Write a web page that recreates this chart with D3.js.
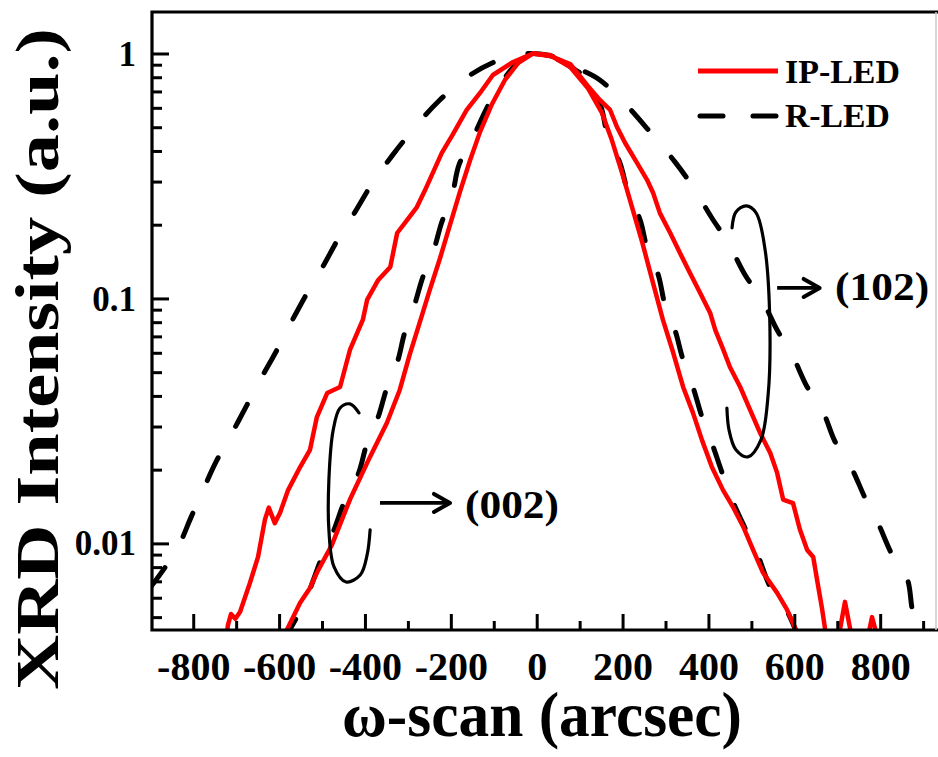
<!DOCTYPE html>
<html>
<head>
<meta charset="utf-8">
<script src="https://cdn.jsdelivr.net/npm/d3@7"></script>
<style>
  html, body { margin: 0; padding: 0; background: #fff; }
  svg { display: block; }
</style>
</head>
<body>
<svg id="chart" width="938" height="757"></svg>
<script>
// XRD omega rocking curves, normalised intensity on a log axis.

// IP-LED, (002) reflection
const ipLed002X = [-593, -582, -551, -528, -512, -477, -435, -388, -349, -319, -296, -272, -249, -225, -202, -179, -155, -132, -104, -74, -43, -9,
  31, 78, 119, 152, 175, 199, 222, 246, 269, 294, 318, 341, 364, 385, 408, 434, 457, 481, 504, 527, 560, 583, 602, 613];
const ipLed002Y = [0.00385, 0.00443, 0.00572, 0.00658, 0.00759, 0.00986, 0.0151, 0.0226, 0.031, 0.0423, 0.0588, 0.0802, 0.1084, 0.1463, 0.1995, 0.2716, 0.3673, 0.4786, 0.6223, 0.7798, 0.9146, 1.0,
  0.986, 0.881, 0.723, 0.572, 0.443, 0.325, 0.236, 0.169, 0.119, 0.0817, 0.06, 0.0435, 0.0341, 0.0264, 0.0205, 0.0165, 0.0141, 0.0117, 0.0094, 0.0076, 0.00628, 0.00536, 0.00452, 0.00403];

// IP-LED, (102) reflection
const ipLed102X = [-724, -719, -712, -702, -691, -668, -649, -633, -624, -610, -598, -579, -551, -528, -512, -488, -458, -435, -405, -395, -369, -341, -325, -302, -279, -260, -221, -196, -163, -132, -102, -55, -9,
  31, 78, 119, 147, 171, 187, 206, 234, 257, 271, 287, 311, 334, 357, 381, 404, 416, 432, 450, 474, 497, 520, 544, 560, 574, 597, 613, 630, 644, 653, 665, 672, 679, 702, 718, 735, 770, 781, 795];
const ipLed102Y = [0.00404, 0.00465, 0.00515, 0.00492, 0.00525, 0.00689, 0.00881, 0.0125, 0.014, 0.0121, 0.0133, 0.0165, 0.0205, 0.0241, 0.0328, 0.0411, 0.0435, 0.0616, 0.0817, 0.0986, 0.119, 0.1345, 0.185, 0.209, 0.236, 0.277, 0.393, 0.465, 0.588, 0.69, 0.817, 0.923, 1.0,
  0.977, 0.906, 0.737, 0.646, 0.588, 0.501, 0.431, 0.357, 0.305, 0.27, 0.223, 0.185, 0.153, 0.127, 0.105, 0.0873, 0.0743, 0.0634, 0.0525, 0.0435, 0.0351, 0.0283, 0.0234, 0.0194, 0.0151, 0.0146, 0.0114, 0.0094, 0.0088, 0.0071, 0.00536, 0.00443, 0.00367, 0.00404, 0.00577, 0.00404, 0.00404, 0.005, 0.00404];

// R-LED, (002) reflection
const rLed002X = [-590, -540, -500, -474, -446, -416, -395, -370, -349, -325, -307, -286, -265, -241, -221, -197, -181, -151, -116, -81, -40, 0,
  40, 80, 122, 150, 166, 194, 213, 241, 257, 283, 299, 322, 341, 364, 385, 408, 432, 455, 485, 513, 544, 585, 610];
const rLed002Y = [0.0040, 0.0058, 0.00881, 0.01114, 0.0151, 0.0191, 0.0257, 0.0325, 0.0431, 0.0546, 0.073, 0.0923, 0.1225, 0.155, 0.205, 0.264, 0.351, 0.443, 0.6, 0.765, 0.93, 1.0,
  0.96, 0.88, 0.772, 0.605, 0.456, 0.357, 0.27, 0.209, 0.161, 0.125, 0.094, 0.0743, 0.0561, 0.0435, 0.0328, 0.0257, 0.0194, 0.0151, 0.01156, 0.00914, 0.00664, 0.0052, 0.0041];

// R-LED, (102) reflection
const rLed102X = [-900, -873, -836, -805, -779, -747, -712, -675, -644, -605, -575, -535, -500, -460, -423, -381, -337, -281, -228, -158, -104, -50, -15,
  40, 89, 147, 213, 264, 322, 364, 408, 446, 485, 525, 560, 595, 630, 667, 695, 732, 765, 795, 828, 863, 875, 888, 900];
const rLed102Y = [0.0066, 0.00765, 0.0096, 0.0128, 0.0162, 0.0215, 0.0277, 0.0367, 0.0465, 0.0616, 0.078, 0.105, 0.133, 0.178, 0.2255, 0.299, 0.382, 0.506, 0.64, 0.81, 0.915, 0.985, 1.0,
  0.97, 0.881, 0.78, 0.605, 0.478, 0.361, 0.285, 0.213, 0.169, 0.125, 0.0986, 0.0743, 0.0588, 0.0435, 0.0344, 0.026, 0.0205, 0.0153, 0.0121, 0.00897, 0.00716, 0.00536, 0.00456, 0.0038];

// Axis ticks
const xTicks = [-800, -600, -400, -200, 0, 200, 400, 600, 800];
const xTickLabels = ["-800", "-600", "-400", "-200", "0", "200", "400", "600", "800"];
const xMinorTicks = [-900, -700, -500, -300, -100, 100, 300, 500, 700, 900];
const yTicks = [0.01, 0.1, 1];
const yTickLabels = ["0.01", "0.1", "1"];
const yMinorTicks = [0.005, 0.006, 0.007, 0.008, 0.009, 0.02, 0.03, 0.04, 0.05, 0.06, 0.07, 0.08, 0.09,
  0.2, 0.3, 0.4, 0.5, 0.6, 0.7, 0.8, 0.9];

// Group brackets and labels (data units)
const bracket102 = [[455, 0.194], [464, 0.2255], [488, 0.2385], [511, 0.2234], [532, 0.1578], [543, 0.0794], [539, 0.0404],
  [522, 0.0264], [492, 0.02255], [464, 0.0241], [448, 0.029], [443, 0.0357]];
const bracket002 = [[-414, 0.0341], [-435, 0.0371], [-458, 0.0357], [-474, 0.029], [-484, 0.01816], [-484, 0.01135],
  [-472, 0.00802], [-444, 0.00696], [-411, 0.00743], [-395, 0.00897], [-388, 0.01135]];
const arrow102 = { from: 560, to: 659, level: 0.1104 };
const arrow002 = { from: -365, to: -202, level: 0.01463 };
const label102 = { text: "(102)", x: 695, y: 0.0986 };
const label002 = { text: "(002)", x: -167, y: 0.0127 };

const serif = "'Liberation Serif', 'Times New Roman', Times, serif";
const plot = { l: 152, t: 12, r: 936, b: 630 };

const svg = d3.select("#chart");
const x = d3.scaleLinear().domain([-896, 930]).range([plot.l, plot.r]);
const y = d3.scaleLog().domain([0.00443, 1.477]).range([plot.b, plot.t]);

svg.append("defs").append("clipPath").attr("id", "plot-clip")
  .append("rect")
  .attr("x", plot.l).attr("y", plot.t)
  .attr("width", plot.r - plot.l).attr("height", plot.b - plot.t);

const zip = (xs, ys) => xs.map((v, i) => [v, ys[i]]);
const smoothLine = d3.line().x(d => x(d[0])).y(d => y(d[1])).curve(d3.curveCatmullRom.alpha(0.5));
const rawLine = d3.line().x(d => x(d[0])).y(d => y(d[1]));

const curves = svg.append("g").attr("clip-path", "url(#plot-clip)");

// dashed R-LED curves
[zip(rLed102X, rLed102Y), zip(rLed002X, rLed002Y)].forEach(pts => {
  curves.append("path")
    .attr("d", smoothLine(pts))
    .attr("fill", "none")
    .attr("stroke", "#000")
    .attr("stroke-width", 5)
    .attr("stroke-linecap", "round")
    .attr("stroke-dasharray", "25,36");
});

// solid IP-LED curves
[zip(ipLed102X, ipLed102Y), zip(ipLed002X, ipLed002Y)].forEach(pts => {
  curves.append("path")
    .attr("d", rawLine(pts))
    .attr("fill", "none")
    .attr("stroke", "#ff0000")
    .attr("stroke-width", 4.5)
    .attr("stroke-linejoin", "round");
});

// brackets around each pair of curves
[bracket102, bracket002].forEach(pts => {
  svg.append("path")
    .attr("d", smoothLine(pts))
    .attr("fill", "none")
    .attr("stroke", "#000")
    .attr("stroke-width", 3.2)
    .attr("stroke-linecap", "round");
});

// arrows pointing to reflection labels
[arrow102, arrow002].forEach(a => {
  const x0 = x(a.from), x1 = x(a.to), yy = y(a.level);
  svg.append("line")
    .attr("x1", x0).attr("x2", x1 - 2).attr("y1", yy).attr("y2", yy)
    .attr("stroke", "#000").attr("stroke-width", 3.6);
  svg.append("polyline")
    .attr("points", `${x1 - 16},${yy - 9} ${x1},${yy} ${x1 - 16},${yy + 9}`)
    .attr("fill", "none").attr("stroke", "#000").attr("stroke-width", 4)
    .attr("stroke-linecap", "round").attr("stroke-linejoin", "round");
});

[label102, label002].forEach(l => {
  svg.append("text")
    .attr("x", x(l.x)).attr("y", y(l.y))
    .attr("font-family", serif).attr("font-weight", "bold").attr("font-size", 40)
    .attr("textLength", 94).attr("lengthAdjust", "spacingAndGlyphs")
    .text(l.text);
});

// x axis: major and minor ticks pointing inward
const gxMinor = svg.append("g").attr("transform", `translate(0,${plot.b})`)
  .call(d3.axisBottom(x).tickValues(xMinorTicks.filter(v => v > -896 && v < 930)).tickSize(-9).tickSizeOuter(0).tickFormat(""));
gxMinor.select(".domain").remove();
gxMinor.selectAll(".tick line").attr("stroke", "#000").attr("stroke-width", 3);

const gx = svg.append("g").attr("transform", `translate(0,${plot.b})`)
  .call(d3.axisBottom(x).tickValues(xTicks).tickSize(-16).tickSizeOuter(0).tickPadding(0)
    .tickFormat((d, i) => xTickLabels[i]));
gx.select(".domain").remove();
gx.selectAll(".tick line").attr("stroke", "#000").attr("stroke-width", 3);
gx.selectAll(".tick text")
  .attr("y", 50).attr("dy", 0)
  .attr("fill", "#000")
  .attr("font-family", serif).attr("font-weight", "bold").attr("font-size", 40);

// y axis: log ticks pointing inward
const gyMinor = svg.append("g").attr("transform", `translate(${plot.l},0)`)
  .call(d3.axisLeft(y).tickValues(yMinorTicks).tickSize(-10).tickSizeOuter(0).tickFormat(""));
gyMinor.select(".domain").remove();
gyMinor.selectAll(".tick line").attr("stroke", "#000").attr("stroke-width", 3);

const gy = svg.append("g").attr("transform", `translate(${plot.l},0)`)
  .call(d3.axisLeft(y).tickValues(yTicks).tickSize(-17).tickSizeOuter(0).tickPadding(16)
    .tickFormat((d, i) => yTickLabels[i]));
gy.select(".domain").remove();
gy.selectAll(".tick line").attr("stroke", "#000").attr("stroke-width", 3);
gy.selectAll(".tick text")
  .attr("dy", "0.33em")
  .attr("fill", "#000")
  .attr("font-family", serif).attr("font-weight", "bold").attr("font-size", 35);

// frame
svg.append("path")
  .attr("d", `M${plot.r + 2},${plot.t} H${plot.l} V${plot.b} H${plot.r + 2}`)
  .attr("fill", "none").attr("stroke", "#000").attr("stroke-width", 3.2);
svg.append("line")
  .attr("x1", plot.r).attr("x2", plot.r).attr("y1", plot.t).attr("y2", plot.b)
  .attr("stroke", "#c8c8c8").attr("stroke-width", 1.5);

// axis titles
svg.append("text")
  .attr("x", 542).attr("y", 736)
  .attr("text-anchor", "middle")
  .attr("font-family", serif).attr("font-weight", "bold").attr("font-size", 64)
  .attr("textLength", 400).attr("lengthAdjust", "spacingAndGlyphs")
  .text("ω-scan (arcsec)");

svg.append("text")
  .attr("transform", "translate(58,359) rotate(-90)")
  .attr("text-anchor", "middle")
  .attr("font-family", serif).attr("font-weight", "bold").attr("font-size", 62)
  .attr("textLength", 662).attr("lengthAdjust", "spacingAndGlyphs")
  .text("XRD Intensity (a.u.)");

// legend
const legend = svg.append("g");
legend.append("line")
  .attr("x1", 698).attr("x2", 778).attr("y1", 71).attr("y2", 71)
  .attr("stroke", "#ff0000").attr("stroke-width", 5);
legend.append("text")
  .attr("x", 785).attr("y", 83)
  .attr("font-family", serif).attr("font-weight", "bold").attr("font-size", 34)
  .attr("textLength", 115).attr("lengthAdjust", "spacingAndGlyphs")
  .text("IP-LED");
legend.append("line")
  .attr("x1", 700).attr("x2", 778).attr("y1", 116).attr("y2", 116)
  .attr("stroke", "#000").attr("stroke-width", 5)
  .attr("stroke-linecap", "round").attr("stroke-dasharray", "23,30");
legend.append("text")
  .attr("x", 785).attr("y", 127)
  .attr("font-family", serif).attr("font-weight", "bold").attr("font-size", 34)
  .attr("textLength", 105).attr("lengthAdjust", "spacingAndGlyphs")
  .text("R-LED");
</script>
</body>
</html>
